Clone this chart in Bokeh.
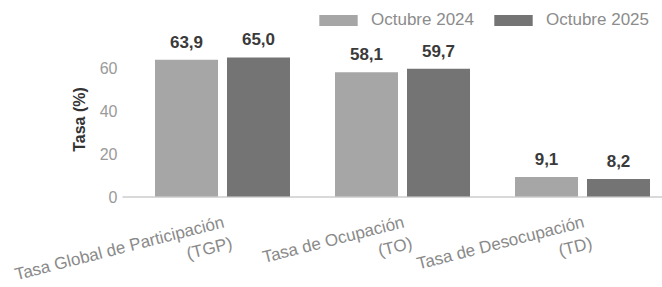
import math
from bokeh.plotting import figure
from bokeh.models import ColumnDataSource, Range1d, LabelSet, Label, Legend, LegendItem, BoxAnnotation
from bokeh.transform import dodge
from bokeh.core.properties import value
from bokeh.embed import file_html
from bokeh.resources import INLINE

categories = ["Tasa Global de Participación", "Tasa de Ocupación", "Tasa de Desocupación"]
category_codes = ["(TGP)", "(TO)", "(TD)"]
series_names = ["Octubre 2024", "Octubre 2025"]
values_2024 = [63.9, 58.1, 9.1]
values_2025 = [65.0, 59.7, 8.2]
y_ticks = [0, 20, 40, 60]
y_title = "Tasa (%)"

FONT = "Liberation Sans"
C1 = "#a6a6a6"
C2 = "#747474"

idx = list(range(len(categories)))
src = ColumnDataSource(dict(
    x=idx,
    cat=categories,
    code=category_codes,
    v1=values_2024,
    v2=values_2025,
    t1=[f"{v:.1f}".replace(".", ",") for v in values_2024],
    t2=[f"{v:.1f}".replace(".", ",") for v in values_2025],
))
tick_src = ColumnDataSource(dict(y=y_ticks, t=[str(t) for t in y_ticks]))

p = figure(width=662, height=287, output_backend="svg", toolbar_location=None,
           x_range=Range1d(-1.2333, 2.4444), y_range=Range1d(-42.52, 91.59),
           x_axis_location=None, y_axis_location=None,
           min_border_left=0, min_border_right=0, min_border_top=0, min_border_bottom=0)
p.outline_line_color = None
p.background_fill_color = "white"
p.border_fill_color = "white"
p.xgrid.visible = False
p.ygrid.visible = False

r1 = p.vbar(x=dodge("x", -0.2), top="v1", width=0.35, source=src, fill_color=C1, line_color=None)
r2 = p.vbar(x=dodge("x", 0.2), top="v2", width=0.35, source=src, fill_color=C2, line_color=None)

# baseline at y = 0, starting right of the y tick labels
p.add_layout(BoxAnnotation(left=122, left_units="screen", right=662, right_units="screen",
                           top=0, bottom=-0.45, fill_color="#b4b4b4", fill_alpha=1,
                           line_color=None, level="underlay"))

# value labels
for col, vcol, off in (("t1", "v1", -0.2), ("t2", "v2", 0.2)):
    p.add_layout(LabelSet(x=dodge("x", off), y=vcol, text=col, source=src,
                          text_align="center", text_baseline="alphabetic", y_offset=12,
                          text_font=value(FONT), text_font_size="17px", text_font_style="bold",
                          text_color="#3a3a3a"))

# category labels (two right-aligned lines, rotated)
p.add_layout(LabelSet(x="x", y=0, text="cat", source=src, angle=0.25,
                      text_align="right", text_baseline="top", x_offset=-1, y_offset=-16,
                      text_font=value(FONT), text_font_size="17px", text_color="#8a8a8a"))
p.add_layout(LabelSet(x="x", y=0, text="code", source=src, angle=0.25,
                      text_align="right", text_baseline="top", x_offset=7, y_offset=-37,
                      text_font=value(FONT), text_font_size="17px", text_color="#8a8a8a"))

# y tick labels
p.add_layout(LabelSet(x=117, x_units="screen", y="y", text="t", source=tick_src,
                      text_align="right", text_baseline="middle",
                      text_font=value(FONT), text_font_size="16px", text_color="#9a9a9a"))

# y title
p.add_layout(Label(x=79, y=168, x_units="screen", y_units="screen", text=y_title, angle=math.pi / 2,
                   text_align="center", text_baseline="middle",
                   text_font=FONT, text_font_size="16px", text_font_style="bold",
                   text_color="#333333"))

legend = Legend(items=[LegendItem(label=series_names[0], renderers=[r1]),
                       LegendItem(label=series_names[1], renderers=[r2])],
                orientation="horizontal", location=(314, 257),
                padding=0, margin=0, spacing=15, label_standoff=9,
                glyph_width=48, glyph_height=14, label_height=14,
                border_line_color=None, background_fill_alpha=0,
                label_text_font=FONT, label_text_font_size="17px", label_text_color="#8c8c8c")
p.add_layout(legend, "center")

open("out.html", "w").write(file_html(p, INLINE))
